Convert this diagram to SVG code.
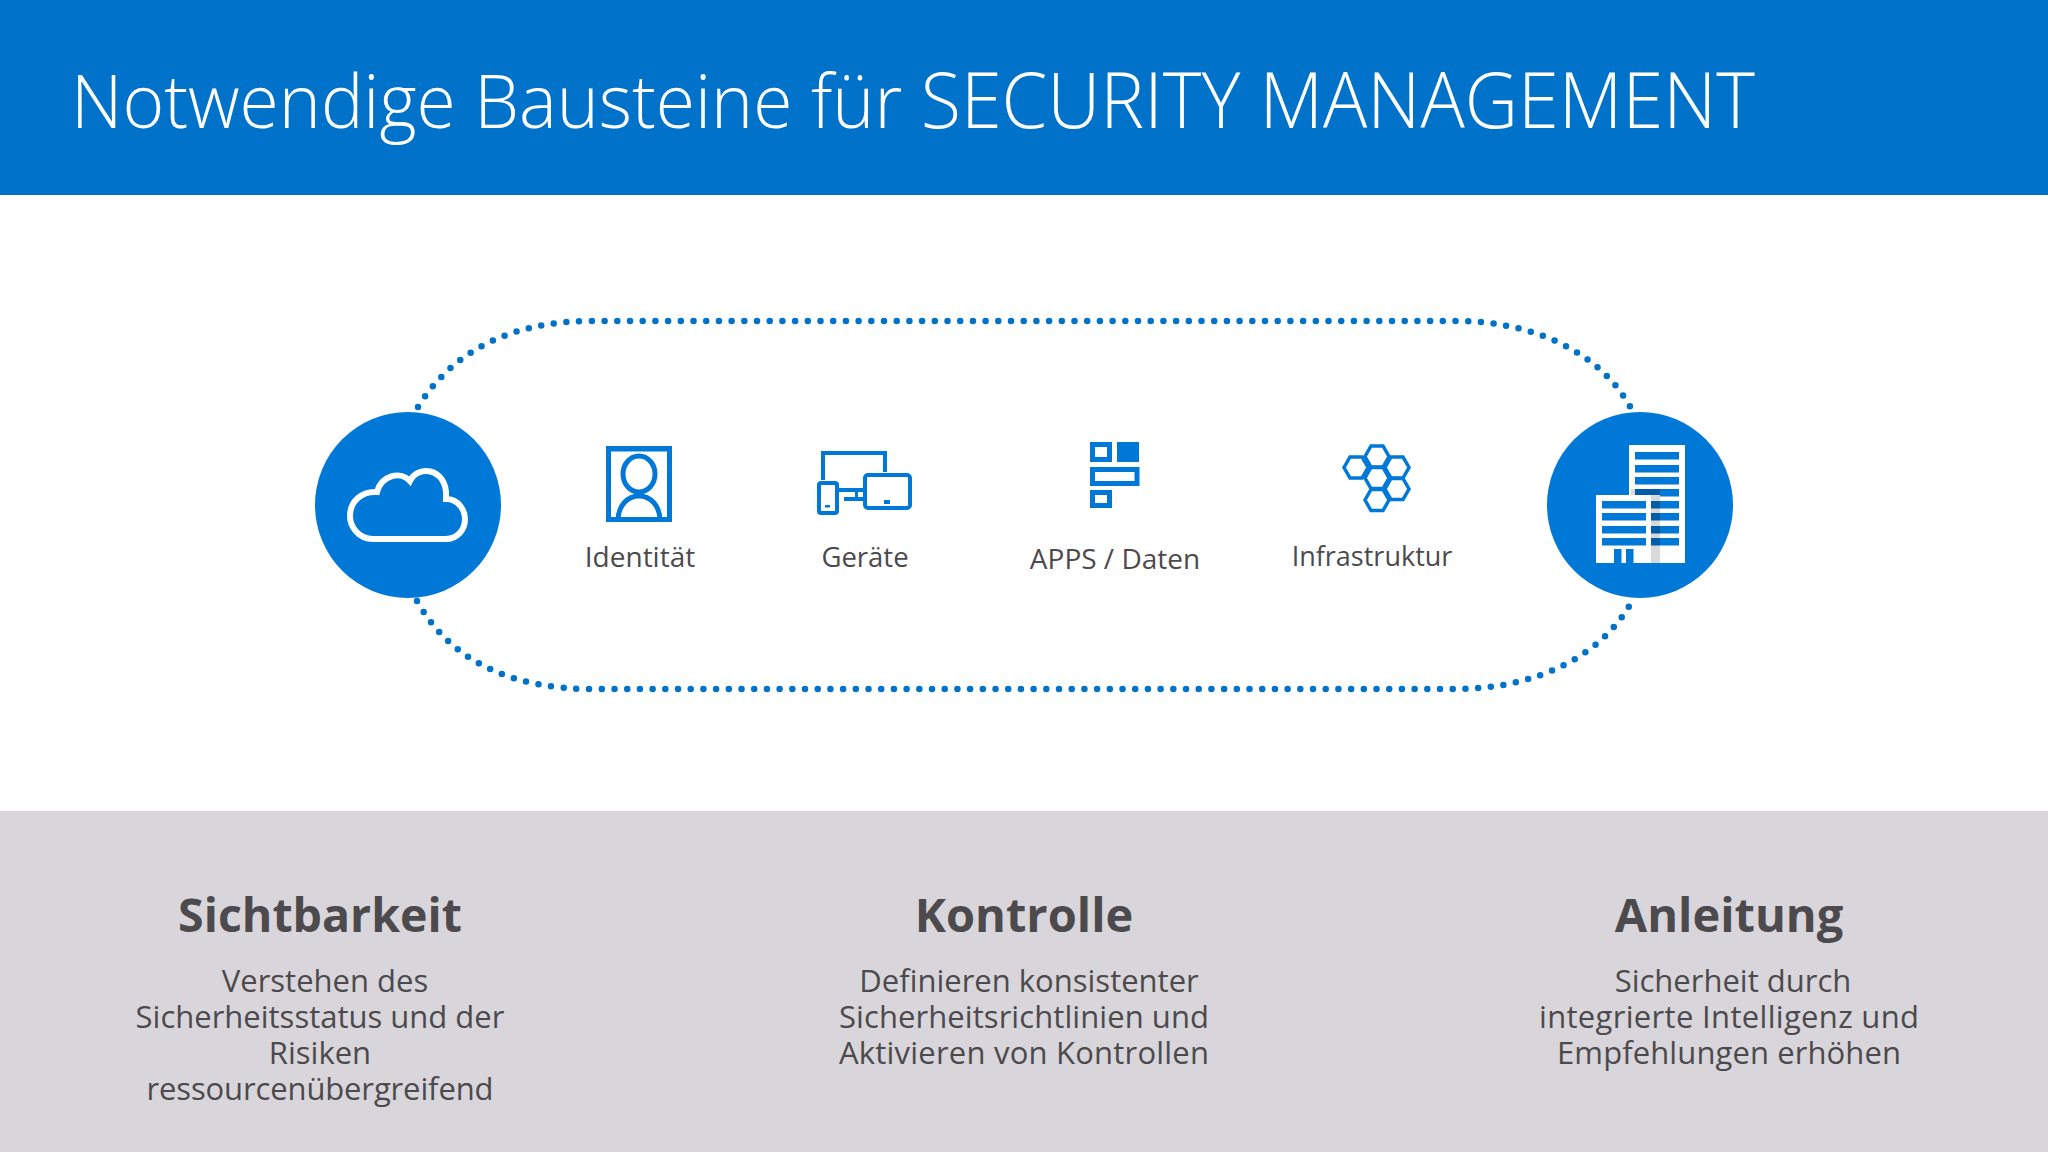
<svg xmlns="http://www.w3.org/2000/svg" width="2048" height="1152" viewBox="0 0 2048 1152">
<style>
text{font-family:"Open Sans","Noto Sans","Liberation Sans",sans-serif;text-anchor:middle;fill:#4c4a4d}
.lab{font-size:28px}
.h{font-size:47px;font-weight:700}
.b{font-size:31px}
.ico{fill:none;stroke:#0078d7;stroke-width:5}
.w{fill:#fff}
.s{fill:#0078d7}
.d{fill:#005ea8}
.g{fill:#d9d9db}
</style>
<rect width="2048" height="1152" fill="#fff"/>
<g id="header"><rect width="2048" height="195" fill="#0072c9"/>
<text x="71" y="128" textLength="1684" lengthAdjust="spacingAndGlyphs" style="font-size:75px;font-weight:300;fill:#fff;text-anchor:start"><tspan style="font-size:74px">Notwendige Bausteine für </tspan><tspan style="font-size:76.500px">SECURITY MANAGEMENT</tspan></text></g>
<g id="connectors" fill="none" stroke="#0072c9" stroke-width="6.500" stroke-linecap="round" stroke-dasharray="0 12.7">
<path d="M418 407C452 352 510 321 592 321L1456 321C1530 321 1600 350 1632 410"/>
<path d="M417 601C450 660 510 689 592 689L1456 689C1530 689 1600 660 1632 601"/>
</g>
<g id="cloud-node"><circle cx="408" cy="505" r="93" fill="#0078d7"/>
<path d="M373 539C358 539 350 526 350 516C350 501 362 491 377 492C381 476 400 470 410 481C418 465 444 468 446 492C446 495 446 497 446 499C459 499 465 511 465 519C465 530 457 539 446 539Z" fill="none" stroke="#fff" stroke-width="6"/></g>
<g id="identitaet"><path class="ico" d="M608.500 519.500V449H669.500V519.500Z"/><rect x="606" y="446" width="66" height="5" fill="#0078d7"/>
<ellipse class="ico" cx="639" cy="474" rx="16" ry="18"/><path class="ico" d="M618 521C618 505 628 496 639 496C650 496 660 505 660 521"/>
<text class="lab" x="640" y="567">Identität</text></g>
<g id="geraete"><path class="ico" style="stroke-width:4" d="M823 480V453H885V472M838 490H863M844 499H863"/>
<rect class="ico" style="stroke-width:4" x="819" y="483" width="18" height="30" rx="2"/><rect class="ico" style="stroke-width:4" x="865" y="475" width="45" height="33" rx="3"/>
<rect class="s" x="825" y="505" width="5" height="2.500"/><rect class="s" x="884" y="500" width="6" height="4"/>
<rect class="s" x="855" y="490" width="3" height="9"/>
<text class="lab" x="865" y="567" style="font-size:27.500px">Geräte</text></g>
<g id="apps"><rect class="ico" x="1092.500" y="444.500" width="17" height="15"/><rect class="s" x="1117" y="442" width="22" height="20"/>
<rect class="ico" x="1092.500" y="469.500" width="44.500" height="14"/><rect class="ico" x="1092.500" y="492.500" width="17" height="13"/>
<text class="lab" x="1115" y="569">APPS / Daten</text></g>
<g id="infrastruktur"><g class="ico" style="stroke-width:3.500">
<path d="M1365 456.500l6-10.500h12l6 10.500l-6 10.500h-12Z"/>
<path d="M1344 467.500l6-10.500h12l6 10.500l-6 10.500h-12Z"/>
<path d="M1385 467.500l6-10.500h12l6 10.500l-6 10.500h-12Z"/>
<path d="M1365 478l6-10.500h12l6 10.500l-6 10.500h-12Z"/>
<path d="M1385 489l6-10.500h12l6 10.500l-6 10.500h-12Z"/>
<path d="M1365 500l6-10.500h12l6 10.500l-6 10.500h-12Z"/></g>
<text class="lab" x="1372" y="566" style="font-size:27px">Infrastruktur</text></g>
<g id="building-node"><circle cx="1640" cy="505" r="93" fill="#0078d7"/>
<rect class="w" x="1629" y="445" width="56" height="118"/>
<g class="s"><rect x="1635" y="452" width="44" height="7.500"/><rect x="1635" y="465" width="44" height="7.500"/><rect x="1635" y="477" width="44" height="7.500"/><rect x="1635" y="489" width="44" height="7.500"/><rect x="1635" y="501" width="44" height="7.500"/><rect x="1635" y="513" width="44" height="7.500"/><rect x="1635" y="526" width="44" height="7.500"/><rect x="1635" y="538" width="44" height="7.500"/></g>
<rect class="g" x="1651" y="489" width="9" height="74"/><rect class="g" x="1631" y="489" width="20" height="6"/>
<g class="d"><rect x="1635" y="489" width="25" height="6"/><rect x="1651" y="501" width="9" height="7.500"/><rect x="1651" y="513" width="9" height="7.500"/><rect x="1651" y="526" width="9" height="7.500"/><rect x="1651" y="538" width="9" height="7.500"/></g>
<rect class="w" x="1596" y="495" width="55" height="68"/>
<g class="s"><rect x="1602" y="501" width="44" height="7.500"/><rect x="1602" y="513" width="44" height="7.500"/><rect x="1602" y="526" width="44" height="7.500"/><rect x="1602" y="538" width="44" height="7.500"/><rect x="1614" y="549" width="7.500" height="14"/><rect x="1626" y="549" width="7.500" height="14"/></g></g>
<g id="bottom"><rect y="811" width="2048" height="341" fill="#d8d6da"/>
<g id="sichtbarkeit"><text class="h" x="320" y="932" style="font-size:46.500px">Sichtbarkeit</text>
<text class="b" x="325" y="992">Verstehen des</text><text class="b" x="320" y="1028">Sicherheitsstatus und der</text><text class="b" x="320" y="1064">Risiken</text><text class="b" x="320" y="1100" textLength="347">ressourcenübergreifend</text></g>
<g id="kontrolle"><text class="h" x="1024" y="932">Kontrolle</text>
<text class="b" x="1029" y="992">Definieren konsistenter</text><text class="b" x="1024" y="1028" textLength="370">Sicherheitsrichtlinien und</text><text class="b" x="1024" y="1064" textLength="370">Aktivieren von Kontrollen</text></g>
<g id="anleitung"><text class="h" x="1729" y="932">Anleitung</text>
<text class="b" x="1733" y="992">Sicherheit durch</text><text class="b" x="1729" y="1028" textLength="380">integrierte Intelligenz und</text><text class="b" x="1729" y="1064" textLength="344">Empfehlungen erhöhen</text></g></g>
</svg>
